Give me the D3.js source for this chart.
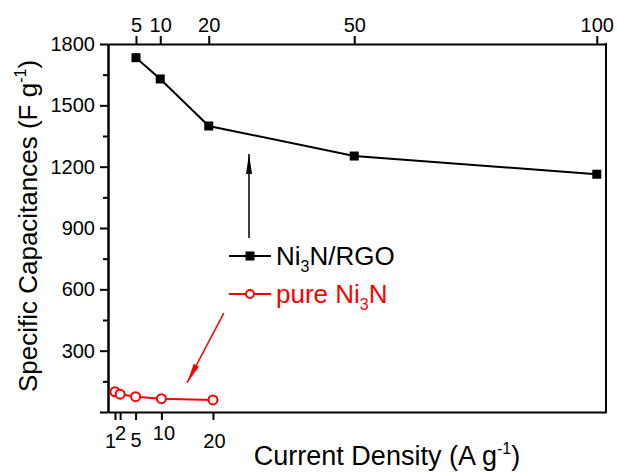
<!DOCTYPE html>
<html>
<head>
<meta charset="utf-8">
<script src="https://cdn.jsdelivr.net/npm/d3@7"></script>
<style>
  body { margin: 0; background: #fff; }
  svg { font-family: "Liberation Sans", Arial, sans-serif; }
  .axis path, .axis line { stroke: #000; stroke-width: 2; }
  .axis text { font-size: 20px; fill: #000; }
</style>
</head>
<body>
<div class="container"></div>
<script>
// Ni3N/RGO, read against the top axis
const RGO_DENSITY = [5, 10, 20, 50, 100];
const RGO_CAP = [1733, 1629, 1399, 1252, 1163];

// pure Ni3N, read against the bottom axis
const PURE_DENSITY = [1, 2, 5, 10, 20];
const PURE_CAP = [99, 87, 75, 65, 59];

const Y_TICKS = [0, 300, 600, 900, 1200, 1500, 1800];
const Y_MINOR = [150, 450, 750, 1050, 1350, 1650];
const TOP_TICKS = [5, 10, 20, 50, 100];
const BOTTOM_TICKS = [1, 2, 5, 10, 20];

const WIDTH = 617;
const HEIGHT = 473;
const LEFT = 108, RIGHT = 606, TOP = 44, BOTTOM = 412;
const RED = '#ff0000';

const svg = d3.select('.container').append('svg')
    .attr('width', WIDTH)
    .attr('height', HEIGHT);

const yScale = d3.scaleLinear().domain([0, 1800]).range([BOTTOM, TOP]);
const xTop = d3.scaleLinear().domain([-0.77, 101.9]).range([LEFT, RIGHT]);
const xBottom = d3.scaleLinear().domain([-0.35, 96.2]).range([LEFT, RIGHT]);

// axes
svg.append('g').attr('class', 'axis')
    .attr('transform', `translate(${LEFT},0)`)
    .call(d3.axisLeft(yScale).tickValues(Y_TICKS).tickSize(8).tickSizeOuter(0).tickPadding(5)
        .tickFormat(d => d === 0 ? '' : d));

svg.append('g').attr('class', 'axis')
    .attr('transform', `translate(${LEFT},0)`)
    .call(d3.axisLeft(yScale).tickValues(Y_MINOR).tickSize(5).tickSizeOuter(0).tickFormat(''));

svg.append('g').attr('class', 'axis')
    .attr('transform', `translate(0,${TOP})`)
    .call(d3.axisTop(xTop).tickValues(TOP_TICKS).tickSize(8).tickSizeOuter(0).tickPadding(4));

// bottom labels are staggered in the original
const bottomShift = [[-5, 36], [0, 28], [0, 35], [2, 28], [1, 36]];
const bottomAxis = svg.append('g').attr('class', 'axis')
    .attr('transform', `translate(0,${BOTTOM})`)
    .call(d3.axisBottom(xBottom).tickValues(BOTTOM_TICKS).tickSize(8).tickSizeOuter(0));
bottomAxis.selectAll('.tick text')
    .attr('dy', 0)
    .attr('x', (d, i) => bottomShift[i][0])
    .attr('y', (d, i) => bottomShift[i][1]);

svg.append('line')
    .attr('x1', RIGHT).attr('x2', RIGHT)
    .attr('y1', TOP - 1).attr('y2', BOTTOM + 1)
    .attr('stroke', '#000').attr('stroke-width', 2);

// axis titles
const yTitle = svg.append('text')
    .attr('transform', 'translate(37,226)rotate(-90)')
    .attr('text-anchor', 'middle')
    .style('font-size', '26px');
yTitle.append('tspan').text('Specific Capacitances (F g');
yTitle.append('tspan').attr('dy', -11).style('font-size', '16px').text('-1');
yTitle.append('tspan').attr('dy', 11).text(')');

const xTitle = svg.append('text')
    .attr('x', 387).attr('y', 465)
    .attr('text-anchor', 'middle')
    .style('font-size', '27px');
xTitle.append('tspan').text('Current Density (A g');
xTitle.append('tspan').attr('dy', -11).style('font-size', '16px').text('-1');
xTitle.append('tspan').attr('dy', 11).text(')');

// lines
const rgo = RGO_DENSITY.map((d, i) => ({ x: d, y: RGO_CAP[i] }));
const pure = PURE_DENSITY.map((d, i) => ({ x: d, y: PURE_CAP[i] }));

svg.append('path')
    .attr('d', d3.line().x(d => xTop(d.x)).y(d => yScale(d.y))(rgo))
    .attr('fill', 'none').attr('stroke', '#000').attr('stroke-width', 2);

svg.selectAll('.sq').data(rgo).enter().append('rect')
    .attr('x', d => xTop(d.x) - 4.5)
    .attr('y', d => yScale(d.y) - 4.5)
    .attr('width', 9).attr('height', 9)
    .attr('fill', '#000');

svg.append('path')
    .attr('d', d3.line().x(d => xBottom(d.x)).y(d => yScale(d.y))(pure))
    .attr('fill', 'none').attr('stroke', RED).attr('stroke-width', 2);

svg.selectAll('.circ').data(pure).enter().append('circle')
    .attr('cx', d => xBottom(d.x))
    .attr('cy', d => yScale(d.y))
    .attr('r', 4.5)
    .attr('fill', '#fff').attr('stroke', RED).attr('stroke-width', 2);

// arrows
const arrow = function (x1, y1, x2, y2, color) {
    svg.append('line')
        .attr('x1', x1).attr('y1', y1).attr('x2', x2).attr('y2', y2)
        .attr('stroke', color).attr('stroke-width', 1.5);
    const a = Math.atan2(y2 - y1, x2 - x1);
    const len = 20, half = 3;
    const bx = x2 - len * Math.cos(a), by = y2 - len * Math.sin(a);
    const px = -Math.sin(a) * half, py = Math.cos(a) * half;
    svg.append('path')
        .attr('d', `M${x2},${y2}L${bx + px},${by + py}L${bx - px},${by - py}Z`)
        .attr('fill', color);
};
arrow(xTop(28.3), yScale(851), xTop(28.3), yScale(1262), '#000');
arrow(xBottom(22.1), yScale(484), xBottom(14.97), yScale(142), RED);

// legend
const legend = [
    { label: 'Ni', sub: '3', rest: 'N/RGO', color: '#000', y: 256, square: true },
    { label: 'pure Ni', sub: '3', rest: 'N', color: RED, y: 294, square: false }
];
legend.forEach(l => {
    svg.append('line')
        .attr('x1', 229).attr('x2', 271).attr('y1', l.y).attr('y2', l.y)
        .attr('stroke', l.color).attr('stroke-width', 2);
    if (l.square) {
        svg.append('rect').attr('x', 245.5).attr('y', l.y - 4.5)
            .attr('width', 9).attr('height', 9).attr('fill', l.color);
    } else {
        svg.append('circle').attr('cx', 250).attr('cy', l.y).attr('r', 4)
            .attr('fill', '#fff').attr('stroke', l.color).attr('stroke-width', 2);
    }
    const t = svg.append('text')
        .attr('x', 276).attr('y', l.y + 8.5)
        .attr('fill', l.color)
        .style('font-size', '26px');
    t.append('tspan').text(l.label);
    t.append('tspan').attr('dy', 7).style('font-size', '16px').text(l.sub);
    t.append('tspan').attr('dy', -7).text(l.rest);
});
</script>
</body>
</html>
